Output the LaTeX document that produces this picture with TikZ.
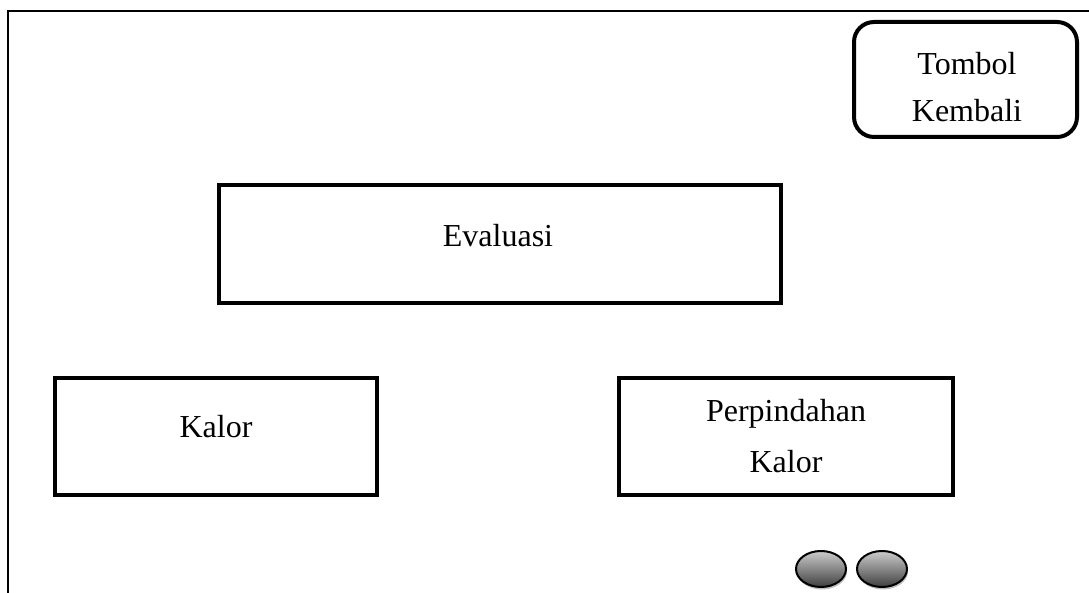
\documentclass[tikz,border=0pt]{standalone}
\usepackage{fontspec}
\setmainfont{Liberation Serif}
\usetikzlibrary{shapes.geometric,shadows}
\begin{document}
\begin{tikzpicture}[x=1pt,y=1pt,
  box/.style={draw=black,line width=4pt,rectangle,inner sep=0pt},
  rbox/.style={draw=black,line width=4pt,rectangle,rounded corners=20pt,inner sep=0pt},
  lbl/.style={font=\fontsize{32}{38}\selectfont,inner sep=0pt,anchor=base},
  knob/.style={ellipse,draw=black,line width=2pt,minimum width=50pt,minimum height=36pt,inner sep=0pt,
    top color=black!20,bottom color=black!75,
    drop shadow={shadow xshift=1pt,shadow yshift=-2.5pt,opacity=0.25,fill=black}}]
\useasboundingbox (0,0) rectangle (1089,593);
% outer frame
\coordinate (fbl) at (8,0);
\coordinate (ftl) at (8,582);
\coordinate (ftr) at (1089,582);
\draw[line width=2.5pt,line join=miter] (fbl) -- (ftl) -- (ftr);
% boxes
\node[rbox,minimum width=223pt,minimum height=115pt] (tombol) at (965.5,513.5) {};
\node[box,minimum width=562pt,minimum height=118pt] (eval) at (500,349) {};
\node[box,minimum width=322pt,minimum height=117pt] (kalor) at (216,156.5) {};
\node[box,minimum width=334pt,minimum height=117pt] (perp) at (786,156.5) {};
% labels
\node[lbl] (tombolA) at (967,518) {Tombol};
\node[lbl] (tombolB) at (967,471) {Kembali};
\node[lbl] (evalt) at (498,346) {Evaluasi};
\node[lbl] (kalort) at (216,155) {Kalor};
\node[lbl] (perpA) at (786,171) {Perpindahan};
\node[lbl] (perpB) at (786,120) {Kalor};
% knobs
\node[knob] (k1) at (821,24) {};
\node[knob] (k2) at (882,24) {};
\end{tikzpicture}
\end{document}
